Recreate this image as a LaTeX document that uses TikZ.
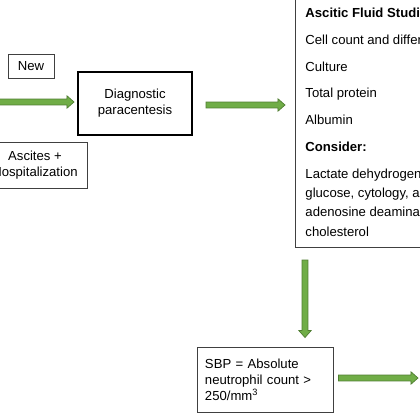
\documentclass[tikz,border=0pt]{standalone}
\usepackage{fontspec}
\setmainfont{Liberation Sans}
\usepackage{tikz}
\usetikzlibrary{positioning,calc}
\definecolor{arrowfill}{RGB}{112,173,71}
\definecolor{arrowline}{RGB}{80,126,50}
\definecolor{boxline}{RGB}{64,64,64}

\begin{document}
\begin{tikzpicture}[x=0.03cm,y=-0.03cm,
  every node/.style={font=\fontsize{11.2}{13.6}\selectfont},
  thinbox/.style={draw=boxline, line width=0.8pt, inner sep=0pt, align=center},
  thickbox/.style={draw=black, line width=1.7pt, inner sep=0pt, align=center},
  fat/.style={draw=arrowline, fill=arrowfill, line width=0.6pt,
    to path={($(\tikztostart)!2.5pt!90:(\tikztotarget)$)
      -- ($(\tikztotarget)!6pt!(\tikztostart)!2.5pt!90:(\tikztotarget)$)
      -- ($(\tikztotarget)!6pt!(\tikztostart)!5.3pt!90:(\tikztotarget)$)
      -- (\tikztotarget)
      -- ($(\tikztotarget)!6pt!(\tikztostart)!5.3pt!-90:(\tikztotarget)$)
      -- ($(\tikztotarget)!6pt!(\tikztostart)!2.5pt!-90:(\tikztotarget)$)
      -- ($(\tikztostart)!2.5pt!-90:(\tikztotarget)$) -- cycle}}]
\useasboundingbox (0,0) rectangle (420,420);
\fill[white] (0,0) rectangle (420,420);
\clip (0,0) rectangle (420,420);
% boxes
\node[thinbox, minimum width=13.8mm, minimum height=7.2mm] (new) at (31,66) {New};
\node[thickbox, minimum width=34.2mm, minimum height=18.9mm] (diag) at (135,103.5) {Diagnostic\\paracentesis};
\node[thinbox, minimum width=31.2mm, minimum height=13.8mm] (hosp) at (35,165) {Ascites +\\Hospitalization};
\node[thinbox, anchor=south west, inner xsep=3mm, inner ysep=3.3mm, align=left,
  font=\fontsize{11.2}{16.6}\selectfont] (fluid) at (295,248)
  {\textbf{Ascitic Fluid Studies}\\[6.2pt]
   Cell count and differential\\[6.2pt]
   Culture\\[6.2pt]
   Total protein\\[6.2pt]
   Albumin\\[6.2pt]
   \textbf{Consider:}\\[6.2pt]
   Lactate dehydrogenase,\\
   glucose, cytology, amylase,\\
   adenosine deaminase,\\
   cholesterol};
\node[thinbox, minimum width=40.8mm, minimum height=19.5mm, text width=36mm, align=left] (sbp) at (265,379.5)
  {SBP = Absolute\\neutrophil count >\\250/mm\textsuperscript{3}};
% arrows
\coordinate (a1s) at (-10,102);
\coordinate (a1e) at ($(diag.west)+(-3,-1.5)$);
\coordinate (a2s) at ($(diag.east)+(13,1.5)$);
\coordinate (a2e) at ($(a2s -| fluid.west)+(-10,0)$);
\coordinate (a3s) at ($(fluid.south west)+(10,12)$);
\coordinate (a3e) at ($(a3s |- sbp.north)+(0,-9)$);
\coordinate (a4s) at ($(sbp.east)+(5,-1.5)$);
\coordinate (a4e) at (418,378);
\draw[fat] (a1s) to (a1e);
\draw[fat] (a2s) to (a2e);
\draw[fat] (a3s) to (a3e);
\draw[fat] (a4s) to (a4e);
\end{tikzpicture}
\end{document}
